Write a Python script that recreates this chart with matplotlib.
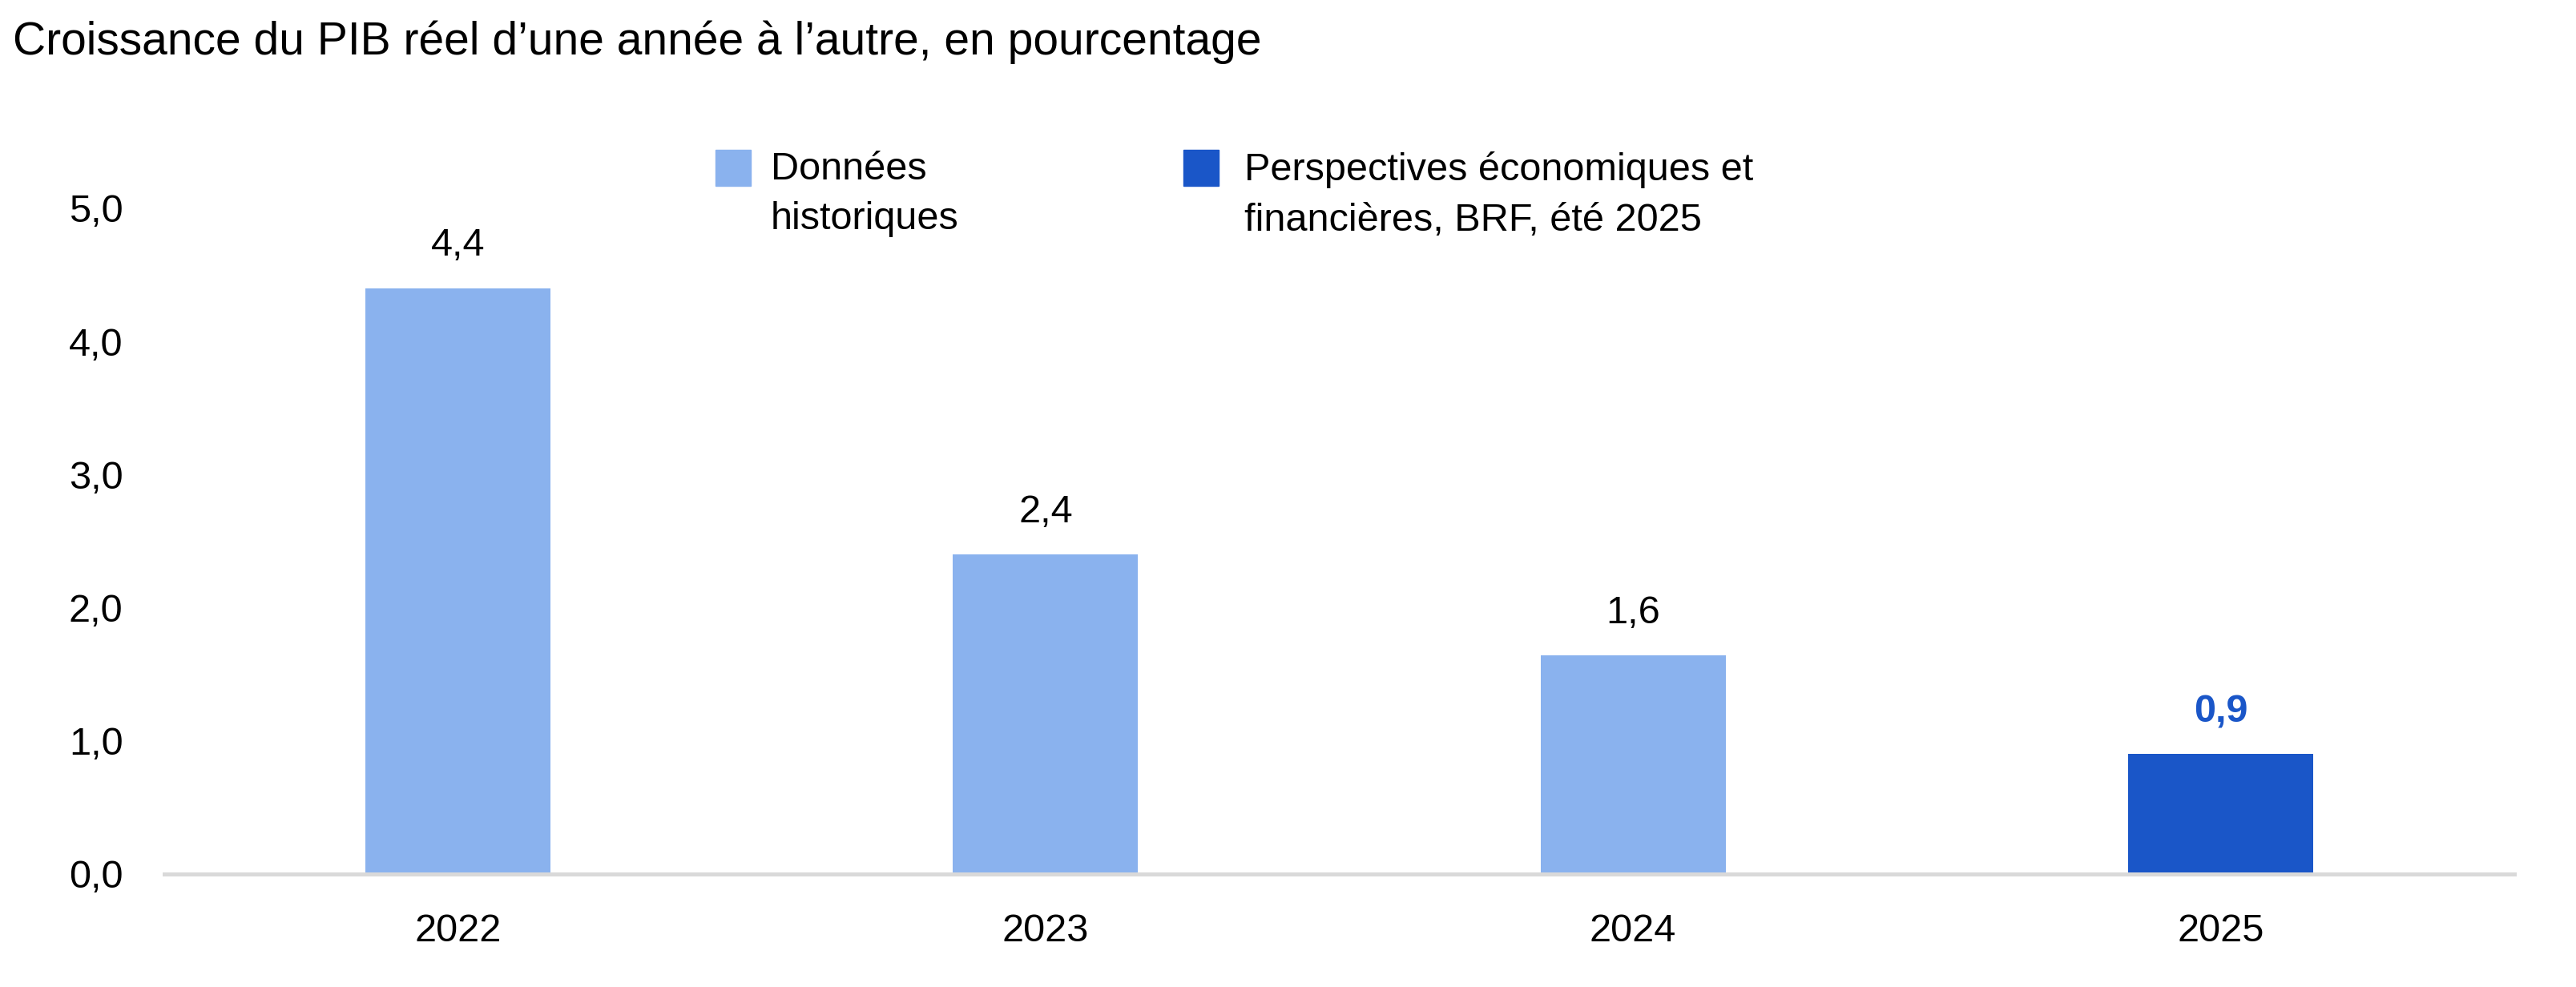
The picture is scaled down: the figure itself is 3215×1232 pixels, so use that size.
import matplotlib
matplotlib.use("Agg")
import matplotlib.pyplot as plt
from matplotlib.patches import Rectangle

# data
years = ["2022", "2023", "2024", "2025"]
growth = [4.4, 2.4, 1.64, 0.9]
is_forecast = [False, False, False, True]
yticks = [0, 1, 2, 3, 4, 5]

title = "Croissance du PIB réel d’une année à l’autre, en pourcentage"
legend_labels = ["Données\nhistoriques",
                 "Perspectives économiques et\nfinancières, BRF, été 2025"]

LIGHT = "#8AB2EE"
DARK = "#1A56C8"
W, H = 3216, 1232

plt.rcParams['font.family'] = ['Liberation Sans', 'DejaVu Sans']
fs = 35

fig = plt.figure(figsize=(W / 100, H / 100), dpi=100)
ax = fig.add_axes([205 / W, 1 - 1091 / H, (3138 - 205) / W, (1091 - 260) / H])

colors = [DARK if f else LIGHT for f in is_forecast]
x = range(len(years))
ax.bar(x, growth, width=0.315, color=colors, zorder=2)

for xi, v, f in zip(x, growth, is_forecast):
    ax.annotate(f"{v:.1f}".replace(".", ","), (xi, v), xytext=(0, 29),
                textcoords="offset points", ha="center", va="baseline",
                fontsize=fs, color=DARK if f else "black",
                fontweight="bold" if f else "normal")

ax.set_xlim(-0.5, len(years) - 0.5)
ax.set_ylim(0, 5)
ax.set_xticks(list(x))
ax.set_xticklabels(years)
ax.set_yticks(yticks)
ax.set_yticklabels([f"{t:.1f}".replace(".", ",") for t in yticks])
ax.tick_params(axis="both", length=0, labelsize=fs)
ax.tick_params(axis="x", pad=35)
ax.tick_params(axis="y", pad=37)
for s in ["top", "right", "left"]:
    ax.spines[s].set_visible(False)
ax.spines["bottom"].set_color("#D9D9D9")
ax.spines["bottom"].set_linewidth(3.6)

fig.text(16 / W, 1 - 68 / H, title, fontsize=41, ha="left", va="baseline")

# legend drawn by hand: square patch plus two-line label
for px, tx, col, lab in [(893, 962, LIGHT, legend_labels[0]),
                         (1477, 1553, DARK, legend_labels[1])]:
    fig.patches.append(Rectangle((px / W, 1 - 232 / H), 44 / W, 45 / H,
                                 transform=fig.transFigure, color=col))
    fig.text(tx / W, 1 - 189 / H, lab, fontsize=fs, ha="left", va="top",
             linespacing=1.5)

fig.savefig("out.png", dpi=100, facecolor="white")
